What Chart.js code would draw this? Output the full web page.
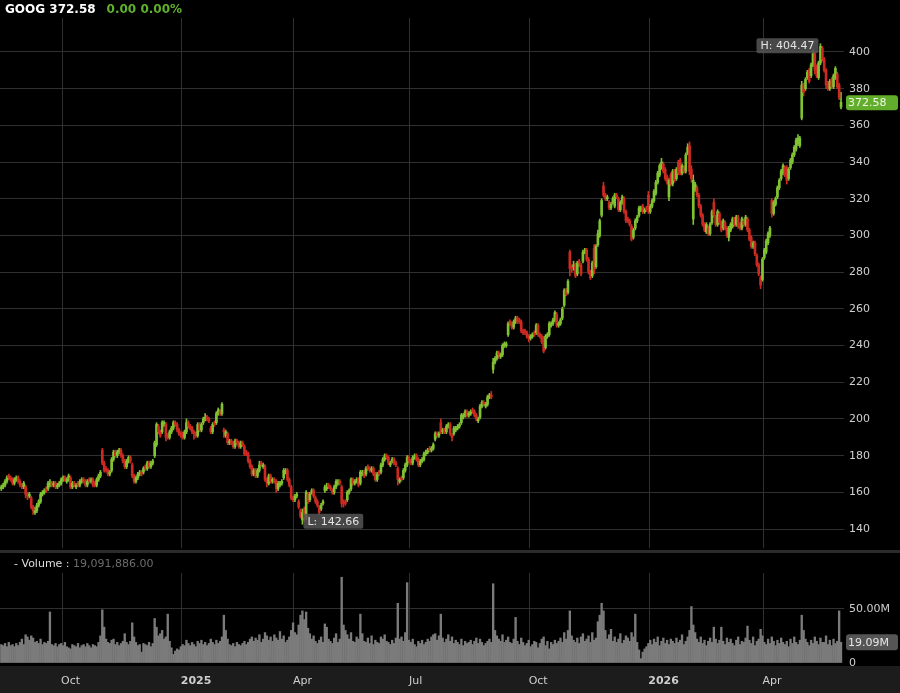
<!DOCTYPE html>
<html>
<head>
<meta charset="utf-8">
<script src="https://cdn.jsdelivr.net/npm/chart.js@4.4.1/dist/chart.umd.min.js"></script>
<style>
  html, body { margin: 0; padding: 0; background: #000; }
  body { width: 900px; height: 693px; position: relative; overflow: hidden; font-family: "DejaVu Sans", Verdana, sans-serif; }
  #priceBox { position: absolute; left: 0; top: 0; width: 900px; height: 550px; }
  #sep { position: absolute; left: 0; top: 550px; width: 900px; height: 3px; background: #2b2b2b; }
  #volBox { position: absolute; left: 0; top: 553px; width: 900px; height: 140px; }
  #hdr { position: absolute; left: 5px; top: 2px; font-size: 12px; font-weight: bold; color: #fff; white-space: pre; }
  #hdr .chg { color: #5fb12b; margin-left: 11px; }
  #volLbl { position: absolute; left: 14px; top: 557px; font-size: 11px; color: #ddd; white-space: pre; }
  #volLbl span { color: #6c6c6c; }
</style>
</head>
<body>
<div id="priceBox"><canvas id="price" width="900" height="550"></canvas></div>
<div id="sep"></div>
<div id="volBox"><canvas id="vol" width="900" height="140"></canvas></div>
<div id="hdr"></div>
<div id="volLbl"></div>
<script>
const symbol = 'GOOG';
const dayChange = 0.00;

// x axis: trading-day index where each labelled month starts
const tickIdx = [33, 97, 157, 219, 283, 347, 408];
const tickLabels = ['Oct', '2025', 'Apr', 'Jul', 'Oct', '2026', 'Apr'];
const priceTicks = [140, 160, 180, 200, 220, 240, 260, 280, 300, 320, 340, 360, 380, 400];
const volTicks = [0, 50];

// daily candles, Aug 2024 -> Jun 2026
const opens = [
  162,163,164,166,169,168,167,165,167,168, 166,164,163,163,159,158,157,152,149,150,
  153,155,159,160,162,162,164,165,164,165, 163,164,165,167,168,166,167,168,163,165,
  163,165,164,166,167,166,164,167,166,167, 165,164,167,169,183,176,173,172,170,172,
  178,182,180,182,183,180,177,174,177,179, 175,169,166,168,170,171,171,174,173,176,
  174,176,180,186,196,193,193,197,197,191, 190,193,195,198,197,194,192,192,190,193,
  198,196,195,193,192,191,197,194,198,200, 201,200,195,193,198,198,203,204,203,194,
  191,192,187,188,187,185,188,187,185,187, 185,182,181,177,174,170,172,169,172,176,
  174,174,167,165,169,166,167,166,162,164, 165,168,171,172,167,163,157,156,158,155,
  150,145,151,147,159,156,160,161,157,155, 152,151,154,161,162,164,163,161,160,163,
  165,166,163,155,155,156,160,162,167,165, 166,167,165,170,171,170,174,173,172,173,
  170,167,171,171,175,178,180,179,175,177, 178,176,173,166,168,168,172,175,179,177,
  176,179,180,178,175,177,178,181,182,184, 183,184,189,192,191,198,193,194,193,196,
  197,191,192,194,195,196,198,201,202,204, 202,203,205,204,202,199,201,207,209,207,
  208,212,213,227,231,233,236,234,235,240, 240,246,253,252,250,253,255,254,253,248,
  248,247,245,244,245,247,247,251,246,245, 244,239,245,246,251,252,254,257,251,252,
  255,262,270,269,291,283,283,284,279,286, 284,286,291,292,287,280,278,293,283,295,
  300,311,327,322,320,318,315,318,316,322, 320,314,318,320,313,309,308,305,299,304,
  308,311,314,316,313,315,322,313,316,319, 323,329,333,337,339,336,332,321,333,328,
  335,331,340,341,334,337,335,345,349,336, 309,325,326,322,316,311,306,302,304,301,
  307,318,310,306,312,307,304,307,304,299, 303,305,309,306,310,306,304,308,306,309,
  303,299,294,296,289,284,277,276,288,291, 296,300,319,312,317,321,326,331,334,337,
  337,331,337,340,344,347,350,349,364,382, 380,386,390,387,393,399,392,386,394,402,
  396,390,383,380,385,381,386,388,382,370
];
const highs = [
  164,165,167,169,170,169,168,168,169,169, 167,165,166,164,160,160,158,153,152,154,
  156,160,161,162,163,166,167,166,166,166, 165,166,168,169,169,168,170,169,166,166,
  165,166,167,168,168,167,167,168,168,168, 166,168,170,172,184,177,174,173,172,179,
  183,183,183,184,184,181,178,178,180,180, 176,170,169,171,172,172,174,175,177,177,
  177,178,188,198,197,194,199,199,198,192, 194,196,199,199,198,195,193,193,194,200,
  199,197,196,194,193,198,198,198,201,203, 202,201,196,198,199,204,206,205,209,195,
  194,193,189,189,188,189,189,188,188,188, 186,183,182,178,175,173,173,173,177,177,
  176,175,168,170,170,168,168,167,166,166, 167,173,173,173,168,164,158,159,160,156,
  151,151,152,161,160,160,162,162,158,156, 153,154,156,164,165,165,164,162,164,167,
  167,167,164,156,156,161,162,168,168,167, 168,168,172,172,172,174,175,174,174,174,
  171,171,172,176,179,181,181,180,177,179, 179,177,174,168,169,173,176,180,180,178,
  180,181,181,179,178,179,182,183,184,185, 185,187,193,193,193,200,195,195,197,198,
  198,192,196,196,197,198,203,203,205,205, 204,205,206,205,203,201,208,210,210,209,
  213,214,215,233,234,237,237,236,241,242, 242,253,254,253,254,256,256,255,254,249,
  249,248,246,246,247,248,252,252,247,246, 245,246,247,253,253,255,259,258,253,255,
  261,271,271,276,292,284,286,285,286,287, 285,292,293,293,288,281,286,295,295,303,
  309,320,329,323,322,319,318,321,323,323, 321,319,322,321,314,310,309,306,304,309,
  311,316,316,317,315,316,324,317,320,325, 330,335,339,342,340,337,333,331,334,336,
  336,337,341,342,339,338,345,350,351,338, 333,329,327,323,317,312,307,307,305,307,
  314,320,311,314,313,308,309,308,305,305, 307,310,310,311,311,307,310,309,311,310,
  304,300,297,297,290,285,278,288,293,298, 302,305,320,319,321,327,331,336,339,338,
  338,337,342,345,349,353,355,354,384,383, 386,390,391,394,401,400,393,395,404.47,403,
  397,391,384,385,386,388,392,389,383,378
];
const lows = [
  161,162,163,165,167,166,164,164,166,165, 163,162,162,157,156,157,151,148,148,149,
  152,154,158,159,160,161,163,163,163,162, 162,163,164,166,166,165,166,162,162,163,
  162,163,163,165,165,163,163,165,165,163, 163,163,166,168,175,171,171,169,169,171,
  177,179,179,181,179,176,173,173,176,176, 168,165,165,167,169,169,170,172,172,173,
  173,175,179,185,192,190,192,196,188,189, 189,192,194,196,193,191,190,189,189,192,
  195,194,192,189,190,190,193,193,197,199, 199,198,192,192,196,197,202,202,202,190,
  190,186,186,186,184,184,186,184,184,185, 180,180,176,173,169,169,168,168,171,174,
  173,166,163,164,165,165,165,160,161,163, 164,167,170,166,163,156,155,155,157,151,
  146,142.66,144,145,154,155,159,157,154,152, 148,150,153,160,161,162,161,159,159,162,
  164,164,152,152,153,155,159,161,164,164, 165,163,164,169,168,169,172,171,171,169,
  166,166,169,170,174,177,178,175,174,176, 175,174,164,165,166,167,171,174,176,175,
  175,178,177,174,174,176,177,180,181,182, 182,183,188,190,190,192,192,192,192,195,
  191,188,191,193,194,195,197,200,201,201, 201,202,203,201,199,198,200,206,207,206,
  207,211,211,225,230,232,233,233,234,239, 239,245,251,249,249,252,252,252,247,246,
  246,244,242,243,244,245,246,245,244,241, 236,238,244,245,250,251,253,250,250,251,
  254,261,267,268,278,280,281,277,278,283, 278,285,290,286,279,276,277,279,282,294,
  299,310,321,319,319,314,314,317,315,320, 313,313,317,312,307,307,305,297,298,303,
  307,310,313,312,312,313,312,312,315,318, 322,328,332,336,334,330,328,319,327,327,
  329,330,333,333,333,334,334,344,333,329, 306,324,321,315,310,305,302,301,300,300,
  306,310,305,305,306,302,303,303,299,297, 302,304,305,305,304,303,303,305,305,302,
  297,293,293,289,283,278,271,275,287,290, 295,299,310,311,316,320,325,330,333,332,
  328,330,336,339,343,346,349,348,363,376, 379,385,383,386,392,388,386,385,393,395,
  389,380,379,379,380,380,385,380,374,369
];
const closes = [
  163,164,166,168,168,167,165,167,168,166, 164,163,165,159,158,159,152,150,150,153,
  155,159,160,161,161,165,165,164,165,163, 164,165,167,168,167,167,169,163,165,164,
  164,164,166,167,166,164,166,166,167,164, 164,167,169,171,176,172,172,170,171,178,
  182,180,182,183,180,177,174,177,179,177, 169,166,168,170,171,170,173,173,176,174,
  176,177,187,197,193,191,198,198,190,190, 193,195,198,197,194,192,191,190,193,198,
  196,195,193,192,191,197,194,197,200,201, 200,199,193,197,197,203,205,203,208,193,
  193,187,188,187,185,188,187,185,187,186, 181,181,177,174,170,172,169,172,175,175,
  175,167,165,169,166,167,166,162,165,165, 166,172,172,167,164,157,156,158,159,152,
  147,149,146,160,155,159,161,158,155,153, 149,153,155,163,163,163,162,160,163,166,
  166,165,154,154,154,160,161,167,165,166, 167,164,171,171,169,173,173,172,173,170,
  167,170,170,175,178,180,179,176,176,178, 176,175,167,167,167,172,175,179,177,176,
  179,180,178,175,177,178,181,182,183,183, 184,186,192,191,192,193,194,193,196,197,
  192,190,195,195,196,197,202,202,204,202, 203,204,204,202,200,200,207,209,208,208,
  212,213,212,231,233,236,235,235,240,241, 241,252,252,250,253,255,253,253,248,247,
  247,245,244,245,246,246,251,246,245,242, 237,245,246,252,252,254,258,251,252,254,
  260,270,268,275,282,282,284,278,285,285, 279,291,292,287,280,277,285,281,294,301,
  308,319,322,320,321,315,317,320,322,321, 314,318,321,313,308,308,306,298,303,308,
  310,315,315,313,314,314,315,316,319,324, 329,334,338,340,335,331,329,330,328,335,
  330,336,334,334,338,335,344,348,335,331, 330,328,322,316,311,306,303,306,301,306,
  313,311,306,313,307,303,308,304,300,304, 306,309,306,310,305,304,309,306,310,303,
  298,294,296,290,284,279,273,287,292,297, 301,304,312,318,320,326,330,335,338,333,
  330,336,341,344,348,352,353,353,382,378, 385,389,384,393,399,390,387,394,403,396,
  390,382,380,384,381,387,391,381,375,372.58
];
// volume, millions of shares
const volumes = [
  17,16,18,15,19,16,17,15,18,16, 19,22,17,26,24,21,25,23,19,20,
  18,22,17,19,18,20,47,17,16,18, 15,17,18,16,19,15,14,13,17,16,
  15,18,14,16,17,15,18,16,14,17, 16,15,19,25,49,33,22,19,18,21,
  22,17,19,16,18,20,27,19,17,20, 37,24,19,16,17,10,18,17,16,19,
  15,18,41,33,25,27,30,22,24,45, 20,14,8,11,13,12,15,17,16,21,
  18,16,19,17,15,20,18,21,17,19, 16,18,22,19,17,21,18,20,24,44,
  30,22,17,16,18,15,19,17,16,18, 20,17,19,22,24,20,23,21,26,19,
  22,28,25,21,24,20,26,23,21,29, 22,25,19,21,24,30,37,28,26,35,
  44,48,40,47,32,27,22,25,20,18, 21,24,19,36,33,22,20,18,23,27,
  19,22,79,35,30,26,22,28,20,19, 24,22,45,27,20,19,23,18,25,17,
  21,19,18,24,22,26,20,19,17,21, 18,23,55,22,24,20,28,74,21,19,
  22,17,15,20,18,21,17,19,22,20, 24,26,27,21,25,45,23,19,22,26,
  20,24,18,21,19,17,22,16,20,18, 19,21,17,20,23,18,22,19,16,18,
  20,22,19,73,30,25,22,20,26,19, 21,24,19,18,22,42,20,17,23,19,
  16,18,21,15,17,20,19,14,18,22, 24,16,20,13,19,17,21,18,20,23,
  19,28,22,30,48,25,21,19,23,18, 24,27,20,22,25,19,28,21,23,38,
  44,55,48,30,22,26,31,20,24,19, 22,27,18,21,25,23,20,28,24,45,
  19,12,4,10,13,15,18,21,17,22, 19,24,16,20,23,18,21,17,22,20,
  18,23,19,21,26,17,20,24,30,52, 35,28,22,19,24,18,21,16,20,23,
  19,33,22,18,21,33,20,17,23,19, 22,18,16,21,24,17,20,19,23,34,
  21,18,24,16,20,22,31,25,19,17, 22,18,24,20,16,21,18,23,19,17,
  20,15,22,18,24,19,17,21,44,30, 22,19,16,21,18,24,20,17,23,19,
  19,25,17,21,16,22,18,20,48,19.091886
];

const UP = '#80c232', DOWN = '#cc2a22';
const GRID = '#303030', TXT = '#cfcfcf';
const FONT = 'DejaVu Sans';
const AXIS_W = 56;
const n = closes.length;
const isUp = i => closes[i] >= opens[i];

Chart.defaults.animation = false;
Chart.defaults.devicePixelRatio = 1;
Chart.defaults.font.family = FONT;

function xAxis(showLabels) {
  return {
    type: 'linear',
    min: -0.7,
    max: 450.6,
    offset: false,
    afterBuildTicks: s => { s.ticks = tickIdx.map(i => ({ value: i - 0.5 })); },
    afterFit: s => { s.height = showLabels ? 30 : 0; },
    grid: { color: GRID, drawTicks: false, offset: false },
    border: { display: false },
    ticks: {
      display: showLabels,
      align: 'start',
      labelOffset: -1,
      padding: 12,
      color: TXT,
      autoSkip: false,
      maxRotation: 0,
      font: c => ({ family: FONT, size: 11, weight: /^\d{4}$/.test(tickLabels[c.index]) ? 'bold' : 'normal' }),
      callback: (v, i) => tickLabels[i]
    }
  };
}

// right-hand axis with fixed width and no label overhang padding
function yFit(s) {
  s.width = AXIS_W;
  s.paddingTop = 0;
  s.paddingBottom = 0;
}

function box(ctx, x, y, w, h, r, fill) {
  ctx.beginPath();
  ctx.moveTo(x + r, y);
  ctx.arcTo(x + w, y, x + w, y + h, r);
  ctx.arcTo(x + w, y + h, x, y + h, r);
  ctx.arcTo(x, y + h, x, y, r);
  ctx.arcTo(x, y, x + w, y, r);
  ctx.closePath();
  ctx.fillStyle = fill;
  ctx.fill();
}

const priceMarks = {
  id: 'priceMarks',
  afterDraw(chart) {
    const { ctx, scales: { x, y } } = chart;
    ctx.save();
    ctx.font = '11px "' + FONT + '"';
    ctx.textBaseline = 'middle';
    // last price tag
    const last = closes[n - 1];
    const ly = y.getPixelForValue(last);
    box(ctx, x.right + 2, ly - 7, 52, 15, 3, '#62ad2c');
    ctx.fillStyle = '#eef7e6';
    ctx.fillText(last.toFixed(2), x.right + 4, ly + 0.5);
    // high / low labels
    const hi = Math.max(...highs), hiI = highs.indexOf(hi);
    const lo = Math.min(...lows), loI = lows.indexOf(lo);
    const hTxt = 'H: ' + hi.toFixed(2), lTxt = 'L: ' + lo.toFixed(2);
    const hw = ctx.measureText(hTxt).width + 8, lw = ctx.measureText(lTxt).width + 8;
    const hx = x.getPixelForValue(hiI) - 2 - hw, hy = y.getPixelForValue(hi) + 2;
    box(ctx, hx, hy - 7.5, hw, 15, 2, 'rgba(85,85,85,0.85)');
    ctx.fillStyle = '#e4e4e4';
    ctx.fillText(hTxt, hx + 4, hy + 0.5);
    const lx = x.getPixelForValue(loI) + 1, lyy = y.getPixelForValue(lo) - 3;
    box(ctx, lx, lyy - 7.5, lw, 15, 2, 'rgba(85,85,85,0.85)');
    ctx.fillStyle = '#e4e4e4';
    ctx.fillText(lTxt, lx + 4, lyy + 0.5);
    ctx.restore();
  }
};

new Chart(document.getElementById('price'), {
  type: 'bar',
  data: {
    datasets: [
      {
        data: closes.map((c, i) => ({ x: i, y: [lows[i], highs[i]] })),
        backgroundColor: c => isUp(c.dataIndex) ? UP : DOWN,
        barThickness: 1,
        grouped: false,
        order: 2
      },
      {
        data: closes.map((c, i) => ({ x: i, y: [opens[i], c] })),
        backgroundColor: c => isUp(c.dataIndex) ? UP : DOWN,
        barThickness: 2,
        grouped: false,
        order: 1
      }
    ]
  },
  options: {
    responsive: false,
    layout: { padding: { top: 18, bottom: 2, left: 0, right: 0 } },
    plugins: { legend: { display: false }, tooltip: { enabled: false } },
    scales: {
      x: xAxis(false),
      y: {
        position: 'right',
        min: 129.7,
        max: 418.5,
        afterBuildTicks: s => { s.ticks = priceTicks.map(v => ({ value: v })); },
        afterFit: yFit,
        grid: { color: GRID, drawTicks: false },
        border: { display: false },
        ticks: { color: TXT, padding: 5, font: { family: FONT, size: 11 } }
      }
    }
  },
  plugins: [priceMarks]
});

const volMarks = {
  id: 'volMarks',
  beforeDraw(chart) {
    const { ctx, chartArea } = chart;
    ctx.save();
    ctx.fillStyle = '#1c1c1c';
    ctx.fillRect(0, chartArea.bottom + 3, chart.width, chart.height - chartArea.bottom - 3);
    ctx.restore();
  },
  afterDraw(chart) {
    const { ctx, scales: { x, y } } = chart;
    const v = volumes[n - 1];
    const vy = y.getPixelForValue(v);
    ctx.save();
    box(ctx, x.right + 2, vy - 8, 52, 16, 3, '#555');
    ctx.font = '11px "' + FONT + '"';
    ctx.textBaseline = 'middle';
    ctx.fillStyle = '#e6e6e6';
    ctx.fillText(v.toFixed(2) + 'M', x.right + 4, vy + 0.5);
    ctx.restore();
  }
};

new Chart(document.getElementById('vol'), {
  type: 'bar',
  data: {
    datasets: [{
      data: volumes.map((v, i) => ({ x: i, y: v })),
      backgroundColor: '#7b7b7b',
      barThickness: 1.7
    }]
  },
  options: {
    responsive: false,
    layout: { padding: { top: 20, bottom: 0, left: 0, right: 0 } },
    plugins: { legend: { display: false }, tooltip: { enabled: false } },
    scales: {
      x: xAxis(true),
      y: {
        position: 'right',
        min: 0,
        max: 82.9,
        afterBuildTicks: s => { s.ticks = volTicks.map(v => ({ value: v })); },
        afterFit: yFit,
        grid: { color: c => (c.tick && c.tick.value === 0) ? 'rgba(0,0,0,0)' : GRID, drawTicks: false },
        border: { display: false },
        ticks: {
          color: TXT, padding: 5, font: { family: FONT, size: 11 },
          callback: v => v === 0 ? '0' : v.toFixed(2) + 'M'
        }
      }
    }
  },
  plugins: [volMarks]
});

document.getElementById('hdr').innerHTML =
  symbol + ' ' + closes[n - 1].toFixed(2) +
  '<span class="chg">' + dayChange.toFixed(2) + ' ' + dayChange.toFixed(2) + '%</span>';
document.getElementById('volLbl').innerHTML =
  '- Volume : <span>' + (volumes[n - 1] * 1e6).toLocaleString('en-US', { minimumFractionDigits: 2, maximumFractionDigits: 2 }) + '</span>';
</script>
</body>
</html>
